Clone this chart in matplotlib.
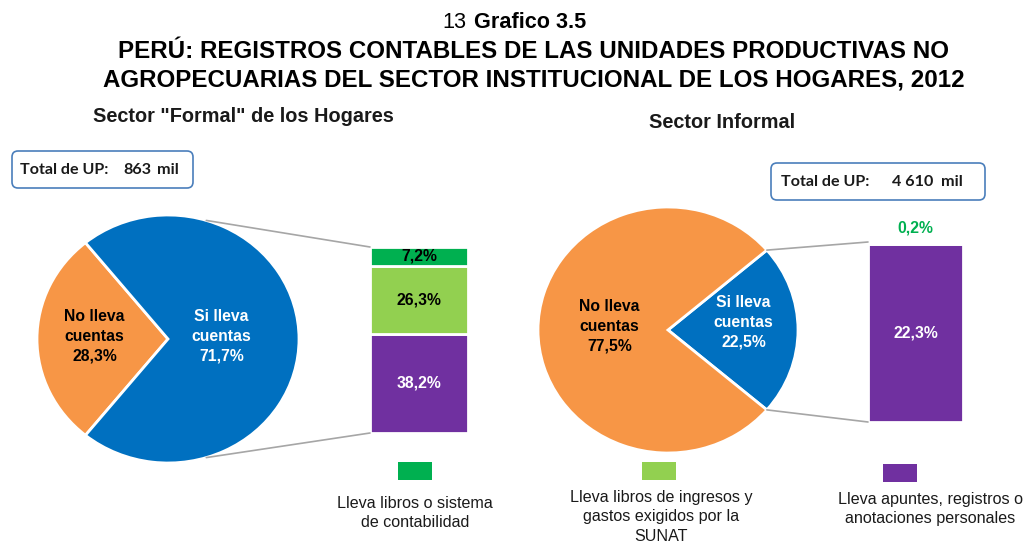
import matplotlib
matplotlib.use("Agg")
import matplotlib.pyplot as plt
from matplotlib.patches import FancyBboxPatch, Rectangle, ConnectionPatch
import numpy as np

# data
formal_pie = [28.3, 71.7]          # No lleva, Si lleva
informal_pie = [22.5, 77.5]        # Si lleva, No lleva
formal_bar = [38.2, 26.3, 7.2]     # apuntes, libros SUNAT, sistema contable
informal_bar = [22.3, 0.2]         # apuntes, sistema contable
formal_total = "863"
informal_total = "4 610"

c_blue = "#0070c0"
c_orange = "#f79646"
c_green = "#00b050"
c_lgreen = "#92d050"
c_purple = "#7030a0"
c_line = "#a6a6a6"

fam = ["Liberation Sans"]
W, H = 1026, 545
fig = plt.figure(figsize=(W / 100, H / 100), dpi=100)


def px_axes(x0, y0, x1, y1, **kw):
    # axes from pixel box (top-left origin)
    return fig.add_axes([x0 / W, (H - y1) / H, (x1 - x0) / W, (y1 - y0) / H], **kw)


def pct(v):
    return f"{v:.1f}%".replace(".", ",")


def pie_panel(box, vals, colors, start):
    ax = px_axes(*box)
    ax.pie(vals, colors=colors, startangle=start, radius=1,
           wedgeprops=dict(edgecolor="white", linewidth=2))
    ax.set_aspect("auto")
    ax.set_xlim(-1, 1)
    ax.set_ylim(-1, 1)
    return ax


def bar_panel(box, vals, colors):
    ax = px_axes(*box)
    bottom = 0
    for v, c in zip(vals, colors):
        ax.bar(0, v, width=1, bottom=bottom, color=c, edgecolor="white", linewidth=2)
        bottom += v
    ax.set_xlim(-0.5, 0.5)
    ax.set_ylim(0, sum(vals))
    ax.axis("off")
    return ax


def connect(pie_ax, bar_ax, ang, y_bar):
    t = np.deg2rad(ang)
    cp = ConnectionPatch(xyA=(np.cos(t), np.sin(t)), coordsA=pie_ax.transData,
                         xyB=(-0.5, y_bar), coordsB=bar_ax.transData,
                         color=c_line, lw=1.2)
    fig.add_artist(cp)


lab = dict(ha="center", va="center", fontsize=11.3, fontweight="bold", family=fam,
           linespacing=1.4)

# left: sector formal
ax1 = pie_panel((37, 215, 299, 463), formal_pie, [c_orange, c_blue],
                180 - formal_pie[0] * 3.6 / 2)
b1 = bar_panel((370, 247, 468, 433), formal_bar, [c_purple, c_lgreen, c_green])
connect(ax1, b1, 73, sum(formal_bar))
connect(ax1, b1, -73, 0)

ax1.text(-0.56, 0.02, "No lleva\ncuentas\n" + pct(formal_pie[0]), color="black", **lab)
ax1.text(0.41, 0.02, "Si lleva\ncuentas\n" + pct(formal_pie[1]), color="white", **lab)

bottom = 0
for v, tc in zip(formal_bar, ["white", "black", "black"]):
    b1.text(0, bottom + v / 2, pct(v), color=tc, **lab)
    bottom += v

# right: sector informal
ax2 = pie_panel((538, 207, 798, 453), informal_pie, [c_blue, c_orange],
                -informal_pie[0] * 3.6 / 2)
b2 = bar_panel((868, 242, 963, 422), informal_bar, [c_purple, c_green])
half = informal_pie[0] * 3.6 / 2
connect(ax2, b2, half, sum(informal_bar))
connect(ax2, b2, -half, 0)

ax2.text(-0.45, 0.03, "No lleva\ncuentas\n" + pct(informal_pie[1]), color="black", **lab)
ax2.text(0.58, 0.06, "Si lleva\ncuentas\n" + pct(informal_pie[0]), color="white", **lab)
b2.text(0, informal_bar[0] / 2, pct(informal_bar[0]), color="white", **lab)
b2.annotate(pct(informal_bar[1]), (0, sum(informal_bar)), xytext=(0, 14),
            textcoords="offset pixels", color=c_green, **lab)

# overlay for titles, boxes and legend
ov = fig.add_axes([0, 0, 1, 1], facecolor="none")
ov.set_xlim(0, W)
ov.set_ylim(H, 0)
ov.axis("off")

ov.text(466, 22, "13", ha="right", va="center", fontsize=15.6, family=fam)
ov.text(474, 22, "Grafico 3.5", ha="left", va="center", fontsize=15.6,
        fontweight="bold", family=fam)
ov.text(533, 52, "PERÚ: REGISTROS CONTABLES DE LAS UNIDADES PRODUCTIVAS NO",
        ha="center", va="center", fontsize=17.4, fontweight="bold", family=fam)
ov.text(534, 80, "AGROPECUARIAS DEL SECTOR INSTITUCIONAL DE LOS HOGARES, 2012",
        ha="center", va="center", fontsize=17.4, fontweight="bold", family=fam)

ov.text(243, 117, 'Sector "Formal" de los Hogares', ha="center", va="center",
        fontsize=14.3, fontweight="bold", family=fam, color="#1a1a1a")
ov.text(722, 122, "Sector Informal", ha="center", va="center",
        fontsize=14.3, fontweight="bold", family=fam, color="#1a1a1a")

boxes = [((12, 151, 193, 188), [(20, "Total de UP:"), (123, formal_total), (157, "mil")]),
         ((771, 163, 985, 200), [(781, "Total de UP:"), (892, informal_total), (941, "mil")])]
for (x0, y0, x1, y1), parts in boxes:
    ov.add_patch(FancyBboxPatch((x0, y0), x1 - x0, y1 - y0,
                                boxstyle="round,pad=0,rounding_size=6",
                                fc="white", ec="#4a7ebb", lw=1.2))
    for tx, s in parts:
        ov.text(tx, (y0 + y1) / 2 + 1, s, ha="left", va="center",
                fontsize=11.6, fontweight="bold", family="Lato", color="#1a1a1a")

legend_items = [
    (c_green, 415, 471, "Lleva libros o sistema\nde contabilidad", 415, 513),
    (c_lgreen, 659, 471, "Lleva libros de ingresos y\ngastos exigidos por la\nSUNAT", 661, 517),
    (c_purple, 900, 473, "Lleva apuntes, registros o\nanotaciones personales", 930, 509),
]
for col, cx, cy, txt, tx, ty in legend_items:
    ov.add_patch(Rectangle((cx - 17, cy - 9), 34, 18, fc=col, ec="none"))
    ov.text(tx, ty, txt, ha="center", va="center", fontsize=11.6, family=fam,
            color="#1a1a1a", linespacing=1.4)

fig.savefig("out.png", dpi=100)
